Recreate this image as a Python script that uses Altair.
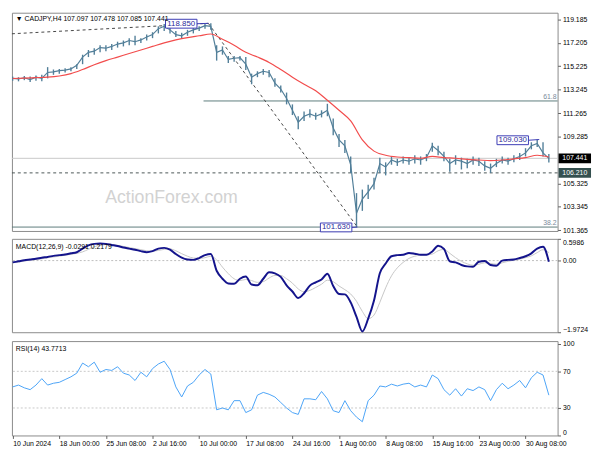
import altair as alt
import pandas as pd

FONT = "Liberation Sans"
W = 555
HP, HM, HR = 222, 95, 96
STEP = 4        # bars between price / indicator samples
MA_STEP = 8     # bars between moving-average samples
XDOM = [-0.5, 374]

# ---------------- data ----------------
close_px = [114.2,114.15,114.25,114.1,114.3,114.2,114.7,114.75,114.85,114.9,
            115.0,115.3,116.0,116.4,116.5,116.8,116.75,116.9,117.1,117.2,
            117.4,117.3,117.45,117.7,117.9,118.4,118.6,118.3,117.9,117.8,
            118.1,118.3,118.45,118.65,118.6,116.4,116.6,115.8,115.9,115.95,
            115.4,114.3,114.6,114.8,114.7,113.8,113.3,112.5,111.5,110.5,
            111.0,111.2,111.0,111.2,111.5,110.0,109.0,108.5,106.9,102.8,
            104.0,104.6,105.3,107.0,106.7,107.3,107.1,107.3,107.2,107.4,
            107.3,107.5,108.5,108.1,107.6,107.0,107.3,107.2,107.0,107.3,
            107.2,106.8,106.6,107.0,107.3,107.2,107.4,107.6,107.9,108.5,
            108.7,107.9,107.44]
high_px = [114.35,114.3,114.4,114.35,114.45,114.5,115.15,114.95,115.0,115.05,
           115.15,115.4,116.2,116.6,116.75,117.0,117.0,117.1,117.3,117.4,
           117.6,117.8,117.6,117.9,118.1,118.6,118.8,118.6,118.2,118.05,
           118.3,118.45,118.6,118.8,118.85,117.0,116.9,116.1,116.1,116.1,
           116.0,114.6,114.8,115.0,114.9,114.2,113.6,113.0,112.0,111.0,
           111.4,111.6,111.3,111.5,112.05,110.8,109.5,109.0,107.6,104.5,
           104.8,105.2,105.8,107.5,107.1,107.6,107.4,107.6,107.5,107.7,
           107.6,107.8,108.75,108.5,108.0,107.4,107.7,107.5,107.4,107.6,
           107.5,107.2,107.0,107.4,107.6,107.5,107.7,107.9,108.3,108.8,
           109.03,108.8,107.8]
low_px = [114.0,113.95,114.05,113.9,114.0,113.95,114.2,114.5,114.6,114.7,
          114.8,115.0,115.4,116.0,116.2,116.4,116.5,116.6,116.8,116.9,
          117.0,117.0,117.2,117.4,117.6,118.0,118.2,118.0,117.7,117.6,
          117.8,118.0,118.2,118.4,118.3,115.7,116.2,115.5,115.6,115.7,
          114.9,113.7,114.3,114.5,114.3,113.5,113.0,112.0,111.1,109.9,
          110.6,110.9,110.7,110.9,111.0,109.4,108.4,107.9,106.2,101.63,
          103.0,104.0,104.8,106.2,106.0,106.9,106.8,107.0,106.9,107.0,
          106.9,107.2,108.0,107.7,107.2,106.3,106.9,106.5,106.6,106.9,
          106.8,106.4,106.2,106.7,107.0,106.9,107.1,107.3,107.6,108.2,
          108.4,107.6,107.08]
ma_v = [114.19,114.22,114.26,114.3,114.4,114.6,114.95,115.35,115.7,116.0,
        116.3,116.6,116.9,117.2,117.45,117.65,117.8,117.95,117.5,117.0,
        116.4,116.0,115.55,114.95,114.3,113.7,113.15,112.35,111.5,110.6,
        109.0,108.05,107.7,107.55,107.5,107.45,107.6,107.5,107.45,107.35,
        107.3,107.25,107.3,107.4,107.5,107.7,107.55]
macd_v = [-0.05,-0.02,0.01,0.03,0.05,0.08,0.10,0.13,0.15,0.17,
          0.20,0.23,0.33,0.42,0.46,0.47,0.46,0.43,0.40,0.36,
          0.33,0.30,0.26,0.23,0.26,0.33,0.35,0.30,0.18,0.08,
          0.03,0.02,0.07,0.15,0.18,-0.28,-0.50,-0.63,-0.64,-0.50,
          -0.44,-0.66,-0.68,-0.50,-0.32,-0.35,-0.45,-0.68,-0.85,-1.03,
          -0.90,-0.69,-0.60,-0.52,-0.36,-0.70,-0.92,-0.93,-1.15,-1.55,
          -1.95,-1.60,-1.10,-0.35,-0.08,0.12,0.15,0.16,0.21,0.19,
          0.16,0.16,0.25,0.41,0.32,-0.02,-0.05,-0.12,-0.16,-0.17,
          -0.03,-0.01,-0.12,-0.14,0.00,0.02,0.03,0.07,0.12,0.20,
          0.33,0.38,-0.03]
signal_v = [-0.06,-0.04,-0.01,0.01,0.03,0.05,0.08,0.10,0.12,0.15,
            0.17,0.20,0.24,0.31,0.38,0.42,0.44,0.44,0.42,0.39,
            0.36,0.33,0.30,0.27,0.26,0.28,0.31,0.32,0.27,0.19,
            0.12,0.07,0.06,0.08,0.12,0.02,-0.18,-0.36,-0.50,-0.55,
            -0.52,-0.55,-0.60,-0.58,-0.48,-0.41,-0.41,-0.50,-0.62,-0.78,
            -0.86,-0.82,-0.74,-0.65,-0.54,-0.58,-0.70,-0.80,-0.92,-1.12,
            -1.40,-1.60,-1.50,-1.15,-0.75,-0.42,-0.20,-0.05,0.06,0.12,
            0.15,0.16,0.18,0.27,0.31,0.20,0.08,-0.02,-0.09,-0.13,
            -0.10,-0.06,-0.08,-0.10,-0.06,-0.02,0.01,0.04,0.08,0.13,
            0.22,0.30,0.22]
rsi_v = [53,55,52,50,55,62,55,57,58,61,
         64,68,79,75,80,69,72,71,75,68,
         66,60,69,64,73,78,81,72,53,42,
         54,58,66,72,67,28,30,28,38,38,
         25,28,44,47,45,42,36,30,25,23,
         40,40,39,48,40,27,25,38,27,20,
         15,38,44,54,53,56,54,56,57,53,
         55,53,66,62,50,44,51,43,51,49,
         53,50,38,50,57,51,55,60,52,63,
         69,66,44]

date_labels = ["10 Jun 2024", "18 Jun 00:00", "25 Jun 08:00", "2 Jul 16:00",
               "10 Jul 00:00", "17 Jul 08:00", "24 Jul 16:00", "1 Aug 00:00",
               "8 Aug 08:00", "15 Aug 16:00", "23 Aug 00:00", "30 Aug 08:00"]
date_ticks = [32 * k for k in range(len(date_labels))]
price_ticks = [101.365, 103.345, 105.325, 109.285, 111.265, 113.245, 115.225, 117.205, 119.185]
macd_ticks = [-1.9724, 0.0, 0.5986]
rsi_ticks = [0, 30, 70, 100]

last_price = 107.441
support = 106.210
fib_levels = ["61.8", "38.2"]
fib_prices = [112.29, 101.63]
fib_start = [131, -0.5]
swing_bars = [134.3, 236.6, 361.4]
swing_prices = [118.85, 101.63, 109.03]
swing_text = ["118.850", "101.630", "109.030"]
box_bars = [115.7, 222.0, 343.2]
box_prices = [118.82, 101.60, 108.97]
box_edge = [126.4, 232.6, 354.1]
trend_x0, trend_p0 = -0.5, 117.97

title_main = "\u25BC CADJPY,H4  107.097 107.478 107.085 107.441"
title_macd = "MACD(12,26,9) -0.0291 0.2179"
title_rsi = "RSI(14) 43.7713"

# ---------------- frames ----------------
n = len(close_px)
idx = [k * STEP for k in range(n)]
bars = pd.DataFrame(dict(i=idx, c=close_px, h=high_px, l=low_px))
ind = pd.DataFrame(dict(i=idx, macd=macd_v, sig=signal_v, rsi=rsi_v))
ma_df = pd.DataFrame(dict(i=[j * MA_STEP for j in range(len(ma_v))], ma=ma_v))

RECT = "M-1.65,-0.5L1.65,-0.5L1.65,0.5L-1.65,0.5Z"
RECT2 = "M-1.6,-0.45L1.6,-0.45L1.6,0.45L-1.6,0.45Z"


def X(field="i", axis=None):
    return alt.X(f"{field}:Q", scale=alt.Scale(domain=XDOM, nice=False, zero=False),
                 axis=axis, title=None)


def yaxis(values, **kw):
    return alt.Axis(orient="right", values=values, labelFontSize=7, labelFont=FONT,
                    labelColor="#000000", tickColor="#606060", tickSize=3, labelPadding=2,
                    domain=False, grid=False, **kw)


PS = alt.Scale(domain=[101.30, 119.75], nice=False, zero=False)
PA = yaxis(price_ticks, format=".3f", labelFlush=False)


def PY(field):
    return alt.Y(f"{field}:Q", scale=PS, axis=PA, title=None)


STEEL = "#527f99"

cur = alt.Chart(pd.DataFrame({"p": [last_price]})).mark_rule(color="#c8c8c8", strokeWidth=1).encode(y=PY("p"))
sup = alt.Chart(pd.DataFrame({"p": [support]})).mark_rule(color="#4a5656", strokeWidth=1, strokeDash=[3, 3]).encode(y=PY("p"))
fib_df = pd.DataFrame({"lab": fib_levels, "p": fib_prices, "x0": fib_start, "x1": [XDOM[1], XDOM[1]]})
fib = alt.Chart(fib_df).mark_rule(color="#5d7b7b", strokeWidth=1).encode(x=X("x0"), x2="x1", y=PY("p"))
fib_txt = alt.Chart(fib_df).mark_text(align="right", baseline="bottom", dx=-1, dy=-1, fontSize=7,
                                      font=FONT, color="#7a8a9a").encode(x=X("x1"), y=PY("p"), text="lab:N")
trend_df = pd.DataFrame({"x0": [trend_x0, swing_bars[0]], "x1": [swing_bars[0], swing_bars[1]],
                         "p0": [trend_p0, swing_prices[0]], "p1": [swing_prices[0], swing_prices[1]]})
trend = alt.Chart(trend_df).mark_rule(color="#444444", strokeWidth=1, strokeDash=[3, 3]).encode(
    x=X("x0"), x2="x1", y=PY("p0"), y2="p1")

wm = alt.Chart(pd.DataFrame({"i": [109], "p": [104.1], "t": ["ActionForex.com"]})).mark_text(
    fontSize=18, font=FONT, color="#d2d2d2").encode(x=X(), y=PY("p"), text="t:N")

hl = alt.Chart(bars).mark_rule(color=STEEL, strokeWidth=1.4).encode(x=X(), y=PY("l"), y2="h")
cl = alt.Chart(bars).mark_line(color=STEEL, strokeWidth=1.2).encode(x=X(), y=PY("c"))
ma = alt.Chart(ma_df).mark_line(color="#f24c4c", strokeWidth=1.2, interpolate="monotone").encode(x=X(), y=PY("ma"))

lab_df = pd.DataFrame({"i": box_bars, "p": box_prices, "t": swing_text, "e": box_edge,
                       "sx": swing_bars, "sp": swing_prices})
conn = alt.Chart(lab_df).mark_rule(color="#3b3bb5", strokeWidth=1).encode(x=X("e"), x2="sx", y=PY("p"), y2="sp")
boxes = alt.Chart(lab_df).mark_point(shape=RECT2, size=400, filled=True, fill="white", stroke="#3b3bb5",
                                     strokeWidth=1, opacity=1).encode(x=X(), y=PY("p"))
box_txt = alt.Chart(lab_df).mark_text(fontSize=8, font=FONT, color="#2a2a9a").encode(x=X(), y=PY("p"), text="t:N")

ax_df = pd.DataFrame({"p": [last_price, support], "t": [f"{last_price:.3f}", f"{support:.3f}"],
                      "bg": ["#000000", "#34504f"]})
ax_box = alt.Chart(ax_df).mark_point(shape=RECT, size=400, filled=True, opacity=1, strokeWidth=0).encode(
    x=alt.value(W + 17.5), y=PY("p"), fill=alt.Fill("bg:N", scale=None))
ax_txt = alt.Chart(ax_df).mark_text(fontSize=7, font=FONT, color="#ffffff").encode(
    x=alt.value(W + 17.5), y=PY("p"), text="t:N")

t_main = alt.Chart(pd.DataFrame({"t": [title_main]})).mark_text(
    align="left", baseline="middle", fontSize=7, font=FONT, color="#000000").encode(
    x=alt.value(4), y=alt.value(6), text="t:N")

price = alt.layer(cur, sup, fib, trend, wm, hl, cl, ma, conn, boxes, box_txt, fib_txt,
                  ax_box, ax_txt, t_main).properties(width=W, height=HP)

# ---- MACD ----
MS = alt.Scale(domain=[-1.9724, 0.5986], nice=False, zero=False)
MA_AX = yaxis(macd_ticks, labelFlush=True,
              labelExpr="datum.value == 0 ? '0.00' : format(datum.value, '.4f')")


def MY(field):
    return alt.Y(f"{field}:Q", scale=MS, axis=MA_AX, title=None)


zero = alt.Chart(pd.DataFrame({"v": [0.0]})).mark_rule(color="#bdbdbd", strokeDash=[2, 2]).encode(y=MY("v"))
sig = alt.Chart(ind).mark_line(color="#c6c6c6", strokeWidth=1, interpolate="monotone").encode(x=X(), y=MY("sig"))
mac = alt.Chart(ind).mark_line(color="#14148c", strokeWidth=2, interpolate="monotone").encode(x=X(), y=MY("macd"))
t_macd = alt.Chart(pd.DataFrame({"t": [title_macd]})).mark_text(
    align="left", baseline="middle", fontSize=7, font=FONT, color="#000000").encode(
    x=alt.value(4), y=alt.value(8), text="t:N")
macd_panel = alt.layer(zero, sig, mac, t_macd).properties(width=W, height=HM)

# ---- RSI ----
RS = alt.Scale(domain=[0, 103], nice=False, zero=False)
R_AX = yaxis(rsi_ticks, labelFlush=True, format="d")
label_expr = "[" + ",".join(f"'{s}'" for s in date_labels) + "][round(datum.value/32)]"
X_AX = alt.Axis(values=date_ticks, labelExpr=label_expr, labelAlign="left", labelFontSize=7,
                labelFont=FONT, labelColor="#000000", tickSize=3, tickColor="#606060",
                labelPadding=1, domain=False, grid=False, labelOverlap=False,
                labelFlush=False, labelBound=False)


def RY(field):
    return alt.Y(f"{field}:Q", scale=RS, axis=R_AX, title=None)


lv = alt.Chart(pd.DataFrame({"v": [30, 70]})).mark_rule(color="#c8c8c8", strokeDash=[2, 2]).encode(y=RY("v"))
rl = alt.Chart(ind).mark_line(color="#4aa3f7", strokeWidth=1).encode(x=X("i", X_AX), y=RY("rsi"))
t_rsi = alt.Chart(pd.DataFrame({"t": [title_rsi]})).mark_text(
    align="left", baseline="middle", fontSize=7, font=FONT, color="#000000").encode(
    x=alt.value(4), y=alt.value(8), text="t:N")
rsi_panel = alt.layer(lv, rl, t_rsi).properties(width=W, height=HR)

chart = alt.vconcat(price, macd_panel, rsi_panel, spacing=3).resolve_scale(
    x="independent", y="independent").properties(
    padding={"left": 0, "top": 0, "right": 0, "bottom": 0}, background="white"
).configure_view(stroke="#8a8a8a", strokeWidth=1)

chart.save("out.html", embed_options={"renderer": "svg", "actions": False})
